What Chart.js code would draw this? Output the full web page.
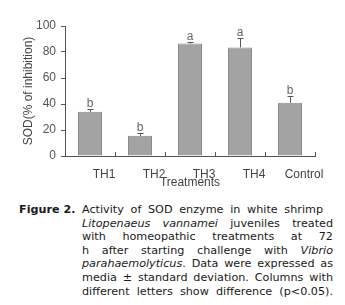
<!DOCTYPE html>
<html>
<head>
<meta charset="utf-8">
<script src="https://cdn.jsdelivr.net/npm/chart.js@4.4.1/dist/chart.umd.min.js"></script>
<style>
  html, body { margin: 0; padding: 0; background: #fff; }
  #wrap { position: absolute; left: 0; top: 0; width: 345px; height: 200px; }
  #cap { position: absolute; left: 0; top: 203px; width: 345px; font-family: "DejaVu Sans"; font-size: 11.2px; line-height: 13.6px; color: #1a1a1a; }
  #cap b { position: absolute; left: 19px; top: 0; }
  #cap .txt { position: absolute; left: 82px; top: 0; width: 251px; }
  .ln { text-align: justify; text-align-last: justify; }
</style>
</head>
<body>
<div id="wrap"><canvas id="sod" width="345" height="200"></canvas></div>
<div id="cap">
  <b>Figure 2.</b>
  <div class="txt">
    <div class="ln" style="width:241px">Activity of SOD enzyme in white shrimp</div>
    <div class="ln"><i>Litopenaeus vannamei</i> juveniles treated</div>
    <div class="ln">with homeopathic treatments at 72</div>
    <div class="ln">h after starting challenge with <i>Vibrio</i></div>
    <div class="ln"><i>parahaemolyticus</i>. Data were expressed as</div>
    <div class="ln">media ± standard deviation. Columns with</div>
    <div class="ln">different letters show difference (p&lt;0.05).</div>
  </div>
</div>
<script>
// data
const categories = ["TH1", "TH2", "TH3", "TH4", "Control"];
const sodMeans = [34, 15.5, 86.5, 83.5, 41];
const sodSD = [2, 2.2, 1.5, 7.5, 5.5];
const sigLetters = ["b", "b", "a", "a", "b"];
const yTicks = [0, 20, 40, 60, 80, 100];

const axisFont = { family: "'Liberation Sans', Arial, sans-serif", size: 12 };

// upward error bar + letter above each column
const errorBars = {
  id: "errorBars",
  afterDatasetsDraw(chart) {
    const ctx = chart.ctx;
    const y = chart.scales.y;
    const meta = chart.getDatasetMeta(0);
    ctx.save();
    ctx.strokeStyle = "#555";
    ctx.lineWidth = 1;
    ctx.fillStyle = "#666";
    ctx.font = "12px 'Liberation Sans', Arial, sans-serif";
    ctx.textAlign = "center";
    meta.data.forEach((bar, i) => {
      const x = Math.round(bar.x) + 0.5;
      const yTop = Math.round(y.getPixelForValue(sodMeans[i] + sodSD[i])) + 0.5;
      const yMid = y.getPixelForValue(sodMeans[i]);
      ctx.beginPath();
      ctx.moveTo(x, yMid);
      ctx.lineTo(x, yTop);
      ctx.moveTo(x - 3, yTop);
      ctx.lineTo(x + 3, yTop);
      ctx.stroke();
      ctx.fillText(sigLetters[i], bar.x, yTop - 3);
    });
    ctx.restore();
  }
};

new Chart(document.getElementById("sod"), {
  type: "bar",
  data: {
    labels: categories,
    datasets: [
      {
        data: sodMeans,
        backgroundColor: "#a3a3a3",
        borderColor: "#8a8a8a",
        borderWidth: 1,
        barPercentage: 0.5,
        categoryPercentage: 0.96,
      },
    ],
  },
  options: {
    responsive: false,
    animation: false,
    devicePixelRatio: 1,
    layout: { padding: { left: 0, top: 26, right: 30, bottom: 0 } },
    plugins: { legend: { display: false }, tooltip: { enabled: false } },
    scales: {
      x: {
        offset: true,
        grid: { drawOnChartArea: false, offset: true, tickLength: -4, color: "#555" },
        border: { color: "#555" },
        ticks: { color: "#444", font: axisFont, padding: 15, labelOffset: 14, maxRotation: 0, autoSkip: false },
        title: { display: true, text: "Treatments", color: "#444", font: axisFont, padding: { top: 0, bottom: 10 } },
        afterFit(scale) { scale.height = 44; },
      },
      y: {
        min: 0,
        max: 100,
        afterBuildTicks(scale) { scale.ticks = yTicks.map((v) => ({ value: v })); },
        grid: { drawOnChartArea: false, tickLength: 4, color: "#555" },
        border: { color: "#555" },
        ticks: { color: "#555", font: axisFont, padding: 5 },
        title: { display: true, text: "SOD(% of inhibition)", color: "#444", font: axisFont, padding: { top: 21, bottom: 0 } },
        afterFit(scale) { scale.width = 65; },
      },
    },
  },
  plugins: [errorBars],
});
</script>
</body>
</html>
